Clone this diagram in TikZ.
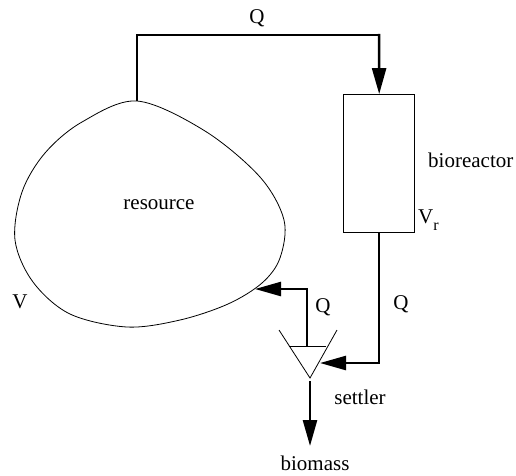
\documentclass[tikz,border=0pt]{standalone}
\usepackage{fontspec}
\setmainfont{Liberation Serif}
\usetikzlibrary{arrows.meta}
\begin{document}
\begin{tikzpicture}[x=1pt,y=-1pt,
  flow/.style={line width=2.5pt,-{Triangle[length=26pt,width=14pt]}},
  pipe/.style={line width=2.5pt},
  thin/.style={line width=0.8pt},
  lbl/.style={font=\fontsize{21}{25}\selectfont,inner sep=0pt}]
\useasboundingbox (0,0) rectangle (516,475);
% resource blob
\draw[thin] plot[smooth cycle,tension=0.55] coordinates {
  (137,101) (205,131) (260,177) (284,220) (280,258) (262,283)
  (228,304) (180,320) (127,327) (70,314) (33,282) (15,240) (22,192) (45,153) (82,122)};
\coordinate (blobtop) at (137,101);
\coordinate (blobin) at (255,289);
% bioreactor
\node[draw,thin,minimum width=71pt,minimum height=138pt,inner sep=0pt] (bio) at (379.2,163.5) {};
% settler
\coordinate (stl) at (279,330);
\coordinate (str) at (337,330);
\coordinate (stb) at (310,378);
\draw[thin] (stl) -- (stb) -- (str);
\coordinate (sll) at (288.5,346);
\coordinate (slr) at (326,346);
\draw[thin] (sll) -- (slr);
\coordinate (sout) at (307,346);
\coordinate (sin) at (320,363);
\coordinate (sbot) at (310,381);
\coordinate (bm) at (310,446);
% connectors
\draw[pipe] (blobtop) -- (137,35) -- (379,35);
\draw[flow] (379,33.8) -- (bio.north);
\draw[flow] (bio.south) -- (bio.south |- sin) -- (sin);
\draw[flow] (sout) -- (sout |- blobin) -- (blobin);
\draw[flow] (sbot) -- (bm);
% labels
\node[lbl] (q1) at (257,18) {Q};
\node[lbl,anchor=west] (lb) at (428,160) {bioreactor};
\node[lbl] (lr) at (159,205) {resource};
\node[lbl,anchor=west] (lvr) at (418,220) {V\raisebox{-0.35em}{\fontsize{16}{18}\selectfont r}};
\node[lbl] (lv) at (20,302) {V};
\node[lbl] (q2) at (323,307) {Q};
\node[lbl] (q3) at (401,304) {Q};
\node[lbl] (ls) at (360,397) {settler};
\node[lbl] (lbm) at (315,463) {biomass};
\end{tikzpicture}
\end{document}
